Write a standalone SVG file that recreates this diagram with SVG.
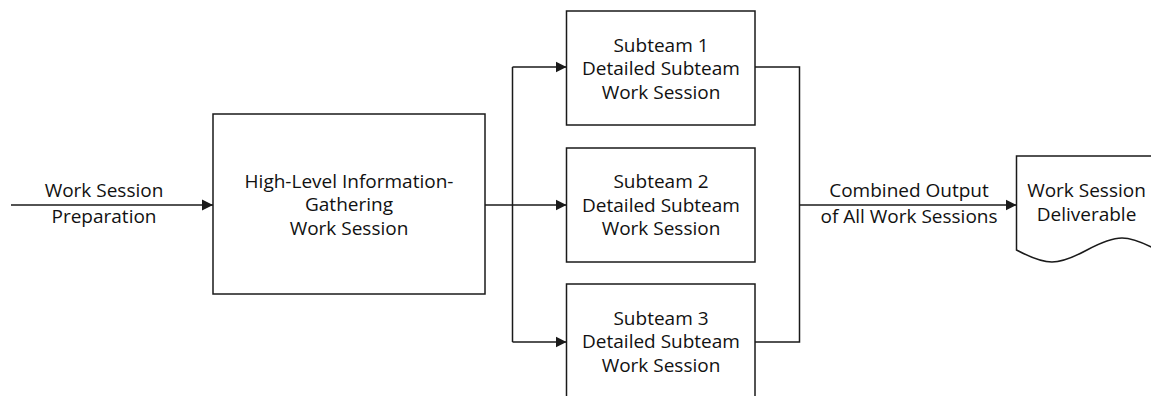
<svg xmlns="http://www.w3.org/2000/svg" width="1151" height="396" viewBox="0 0 1151 396">
  <style>
    .box { fill: #ffffff; stroke: #1a1a1a; stroke-width: 1.5; }
    .wire { fill: none; stroke: #1a1a1a; stroke-width: 1.5; }
    .lbl { font-family: "Open Sans", "Liberation Sans", sans-serif; font-size: 19px; fill: #111111; text-anchor: middle; }
  </style>
  <defs>
    <marker id="arrow" markerUnits="userSpaceOnUse" markerWidth="12" markerHeight="12" viewBox="0 0 12 12" refX="11" refY="6" orient="auto">
      <path d="M0,0.5 L11,6 L0,11.5 Z" fill="#1a1a1a"/>
    </marker>
  </defs>

  <rect width="1151" height="396" fill="#ffffff"/>

  <!-- connectors -->
  <g id="connectors">
    <path class="wire" d="M11,205 H213" marker-end="url(#arrow)"/>
    <path class="wire" d="M485,205 H566.5" marker-end="url(#arrow)"/>
    <path class="wire" d="M512.5,67 V342"/>
    <path class="wire" d="M512.5,67 H566.5" marker-end="url(#arrow)"/>
    <path class="wire" d="M512.5,342 H566.5" marker-end="url(#arrow)"/>
    <path class="wire" d="M755,67 H799.5 V342 H755"/>
    <path class="wire" d="M799.5,205 H1016.5" marker-end="url(#arrow)"/>
    <text class="lbl" x="104" y="197">Work Session</text>
    <text class="lbl" x="104" y="223">Preparation</text>
    <text class="lbl" x="909" y="197">Combined Output</text>
    <text class="lbl" x="909" y="223">of All Work Sessions</text>
  </g>

  <!-- high-level session -->
  <g id="high-level-session">
    <rect class="box" x="213" y="114" width="272" height="180"/>
    <text class="lbl" x="349" y="187.5">High-Level Information-</text>
    <text class="lbl" x="349" y="211">Gathering</text>
    <text class="lbl" x="349" y="234.5">Work Session</text>
  </g>

  <!-- subteam sessions -->
  <g id="subteam-1">
    <rect class="box" x="566.5" y="11" width="188.5" height="114"/>
    <text class="lbl" x="661" y="51.5">Subteam 1</text>
    <text class="lbl" x="661" y="75">Detailed Subteam</text>
    <text class="lbl" x="661" y="98.5">Work Session</text>
  </g>
  <g id="subteam-2">
    <rect class="box" x="566.5" y="148" width="188.5" height="114"/>
    <text class="lbl" x="661" y="188">Subteam 2</text>
    <text class="lbl" x="661" y="211.5">Detailed Subteam</text>
    <text class="lbl" x="661" y="235">Work Session</text>
  </g>
  <g id="subteam-3">
    <rect class="box" x="566.5" y="284" width="188.5" height="114"/>
    <text class="lbl" x="661" y="324.5">Subteam 3</text>
    <text class="lbl" x="661" y="348">Detailed Subteam</text>
    <text class="lbl" x="661" y="371.5">Work Session</text>
  </g>

  <!-- deliverable document -->
  <g id="deliverable">
    <path class="box" d="M1016.5,156 H1157 V250 C1127.3,234 1116.7,234 1087,250 C1057.3,266 1046.7,266 1016.5,250 Z"/>
    <text class="lbl" x="1086.5" y="196.5">Work Session</text>
    <text class="lbl" x="1086.5" y="220.5">Deliverable</text>
  </g>
</svg>
